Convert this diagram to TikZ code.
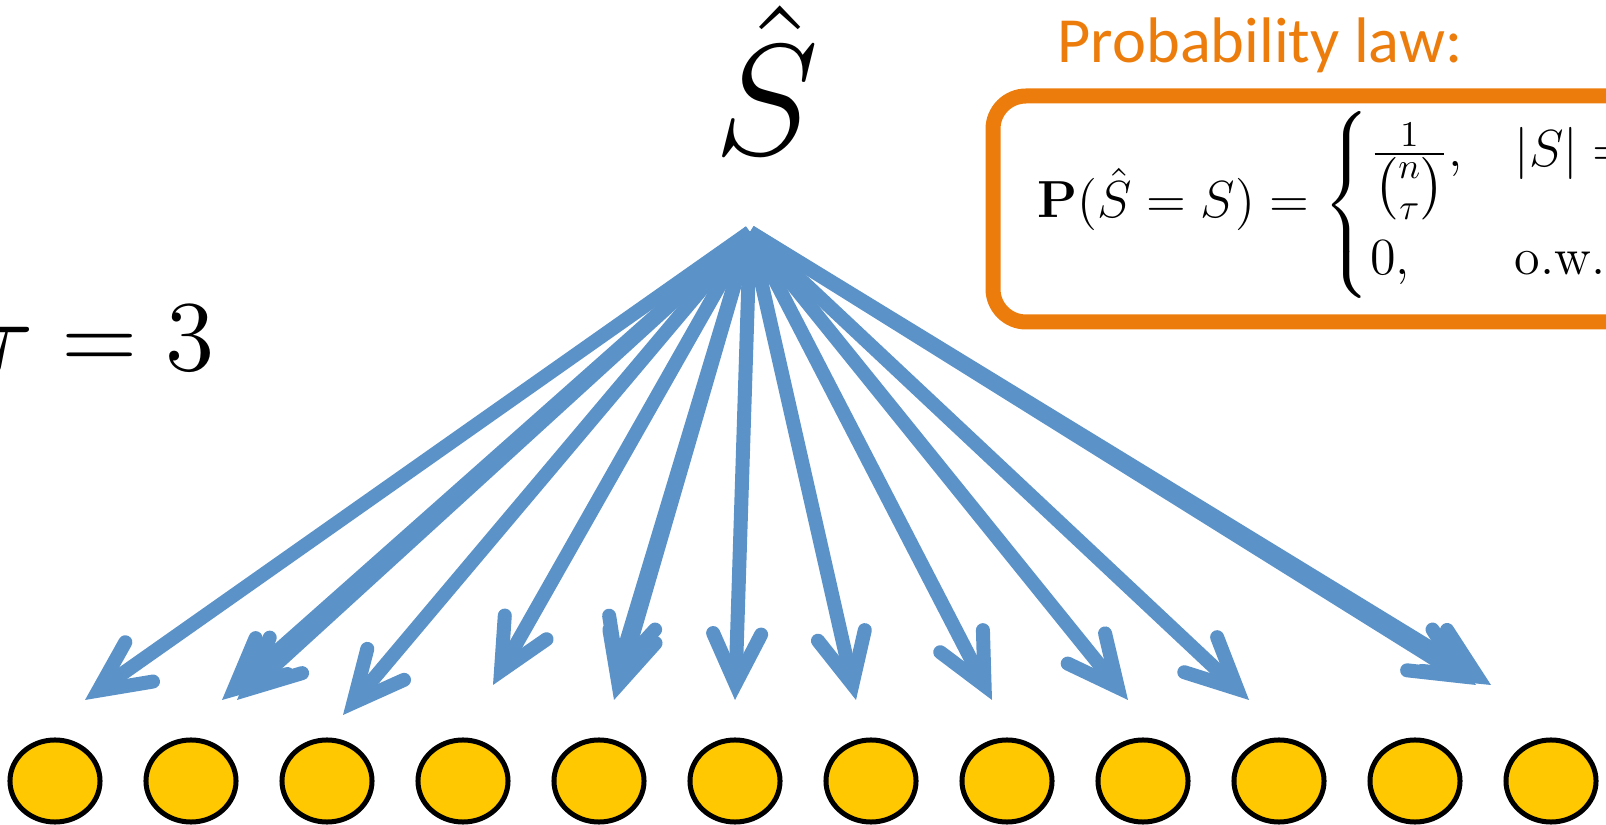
\documentclass[tikz,border=0pt]{standalone}
\usepackage{amsmath}
\usepackage[no-math]{fontspec}
\newfontfamily\lawfont{Carlito}
\usepackage{tikz}
\usetikzlibrary{
  arrows.meta,
  shapes.geometric,
}
\definecolor{arrowblue}{HTML}{5B92C8}
\definecolor{laworange}{HTML}{EC7D0C}
\definecolor{dotyellow}{HTML}{FFC800}

\begin{document}
\begin{tikzpicture}[
    x=0.01cm, y=-0.01cm,
    elem/.style={ellipse, draw=black, fill=dotyellow, line width=0.05cm,
                 minimum width=0.9cm, minimum height=0.82cm, inner sep=0pt},
    samplearrow/.style={draw=arrowblue, line width=0.14cm,
                 -{Straight Barb[length=0.5cm, width=0.48cm,
                                 line join=miter, line cap=round]}},
    lawbox/.style={draw=laworange, line width=0.15cm, rounded corners=0.33cm},
    lawtitle/.style={text=laworange, font=\lawfont\fontsize{18.3}{21}\selectfont,
                 inner sep=0pt, anchor=base west},
  ]
  \useasboundingbox (0,0) rectangle (1606,825);
  \clip (0,0) rectangle (1606,825);
  % random subset of size tau drawn from n items
  \node[font=\Large, scale=3.12, inner sep=0pt, anchor=base]
    (shat) at (767,155) {$\hat{S}$};
  \node[font=\Large, scale=1.98, inner sep=0pt, anchor=base east]
    (tau) at (216,371) {$\tau = 3$};

  \node[lawtitle] (title) at (1057,63) {Probability law:};
  \draw[lawbox] (993,96) rectangle (1720,322);
  \node[font=\Large, scale=1.03, inner sep=0pt, anchor=base west]
    (law) at (1037,218)
    {$\mathbf{P}(\hat{S} = S) = \begin{cases}
        \frac{1}{\tbinom{n}{\tau}}, & |S| = \tau \\
        0, & \text{o.w.}
      \end{cases}$};

  \foreach \i in {1,...,12}
    \node[elem] (c\i) at ({55+136*(\i-1)},781) {};

  \coordinate (hub) at (750,232);
  \foreach \name/\x/\y in {t1/85/700, t2/222/700, t2b/237/700, t3/343/715,
      t4/493/685, t5/614/700, t5b/613/686, t6/735/700, t7/856/700,
      t8/992/700, t9/1128/700, t10/1249/700, t11/1491/685, t11b/1476/685}
    \coordinate (\name) at (\x,\y);
  \foreach \name in {t1,t2,t2b,t3,t4,t5,t5b,t6,t7,t8,t9,t10,t11,t11b}
    \draw[samplearrow] (hub) -- (\name);
\end{tikzpicture}
\end{document}
